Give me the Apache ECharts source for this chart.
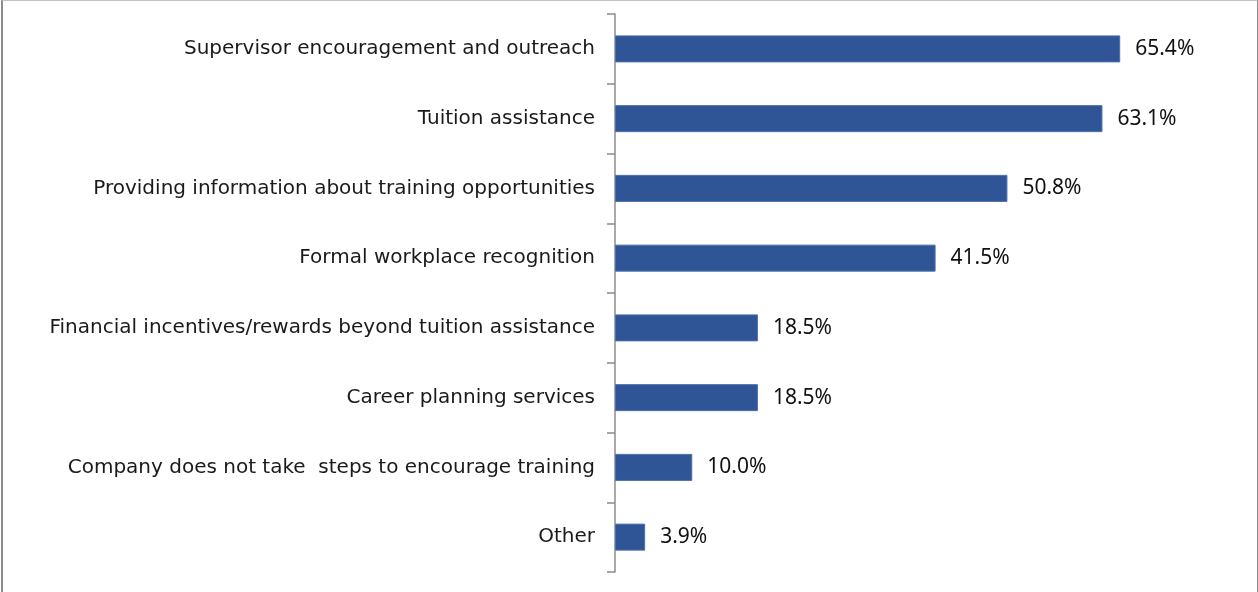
<!DOCTYPE html>
<html>
<head>
<meta charset="utf-8">
<script src="https://cdn.jsdelivr.net/npm/echarts@6/dist/echarts.min.js"></script>
<style>
  html, body { margin: 0; padding: 0; background: #fff; }
  #wrap { position: relative; width: 1258px; height: 592px; }
  #chart { position: absolute; left: 0; top: 0; width: 1258px; height: 592px; }
  #frame { position: absolute; left: 1px; top: 0; width: 1254px; height: 600px;
           border-left: 2px solid #8c8c8c; border-top: 1px solid #c4c4c4; border-right: 1px solid #8c8c8c;
           pointer-events: none; }
</style>
</head>
<body>
<div id="wrap">
  <div id="chart"></div>
  <div id="frame"></div>
</div>
<script>
const categories = [
  'Supervisor encouragement and outreach',
  'Tuition assistance',
  'Providing information about training opportunities',
  'Formal workplace recognition',
  'Financial incentives/rewards beyond tuition assistance',
  'Career planning services',
  'Company does not take  steps to encourage training',
  'Other'
];
const values = [65.4, 63.1, 50.8, 41.5, 18.5, 18.5, 10.0, 3.9];

const chart = echarts.init(document.getElementById('chart'), null, { renderer: 'canvas' });
chart.setOption({
  animation: false,
  grid: { left: 615, right: 25, top: 14, bottom: 20, containLabel: false },
  xAxis: {
    type: 'value', min: 0, max: 80, show: false
  },
  yAxis: {
    type: 'category',
    data: categories,
    inverse: true,
    axisLine: { show: true, lineStyle: { color: '#8c8c8c', width: 1.5 } },
    axisTick: { show: true, length: 8, lineStyle: { color: '#8c8c8c', width: 1.5 } },
    axisLabel: {
      margin: 20,
      color: '#1a1a1a',
      fontFamily: 'DejaVu Sans',
      fontSize: 20,
      padding: [3, 0, 0, 0]
    },
    splitLine: { show: false }
  },
  series: [{
    type: 'bar',
    data: values,
    barWidth: 27,
    itemStyle: { color: '#2F5597', borderColor: '#4a6fae', borderWidth: 1 },
    label: {
      show: true,
      position: 'right',
      distance: 15,
      color: '#111',
      fontFamily: 'Noto Sans',
      fontSize: 21,
      padding: [4, 0, 0, 0],
      formatter: p => p.value.toFixed(1) + '%'
    }
  }]
});
</script>
</body>
</html>
